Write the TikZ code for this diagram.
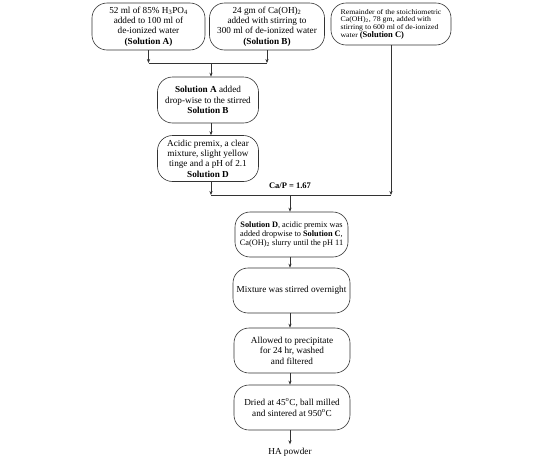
\documentclass[tikz,border=0pt]{standalone}
\usepackage{fontspec}
\setmainfont{Liberation Serif}
\newfontfamily\wideserif[FakeStretch=1.1]{Liberation Serif}
\usetikzlibrary{arrows.meta}
\tikzset{
  box/.style={draw=black!80, line width=0.6pt, rounded corners=15pt, align=center, inner sep=2pt},
  arr/.style={draw=black!80, line width=0.6pt, -{Stealth[length=4pt,width=3.2pt]}},
  ln/.style={draw=black!80, line width=0.6pt},
  nine/.style={font=\fontsize{9.2}{10.4}\selectfont},
  eight/.style={font=\fontsize{8.3}{9.2}\selectfont},
  seven/.style={font=\wideserif\fontsize{7.1}{7.7}\selectfont}
}
\begin{document}
\begin{tikzpicture}[x=1pt,y=-1pt]
\useasboundingbox (0,0) rectangle (542,469);
\node[box,nine,minimum width=113pt,minimum height=47pt] (A) at (148.5,26.5)
  {52 ml of 85\% H\textsubscript{3}PO\textsubscript{4}\\added to 100 ml of\\de-ionized water\\\textbf{(Solution A)}};
\node[box,nine,minimum width=115pt,minimum height=47pt] (B) at (267,26.5)
  {24 gm of Ca(OH)\textsubscript{2}\\added with stirring to\\300 ml of de-ionized water\\\textbf{(Solution B)}};
\node[box,seven,align=left,minimum width=120pt,minimum height=42pt] (C) at (391,24)
  {Remainder of the stoichiometric\\Ca(OH)\textsubscript{2}, 78 gm, added with\\stirring to 600 ml of de-ionized\\water {\rmfamily\fontsize{8.5}{9}\selectfont\textbf{(Solution C)}}};
\coordinate (j1) at (211,63);
\node[box,nine,minimum width=101pt,minimum height=46pt] (s2) at (208,100)
  {\textbf{Solution A} added\\drop-wise to the stirred\\\textbf{Solution B}};
\node[box,nine,minimum width=101pt,minimum height=46pt] (s3) at (208,158.5)
  {Acidic premix, a clear\\mixture, slight yellow\\tinge and a pH of 2.1\\\textbf{Solution D}};
\coordinate (j2) at (290,195);
\node[font=\fontsize{8.5}{10}\selectfont\bfseries] (cap) at (290,186) {Ca/P = 1.67};
\node[box,eight,minimum width=113pt,minimum height=45pt] (s4) at (291.5,234.5)
  {\textbf{Solution D}, acidic premix was\\added dropwise to \textbf{Solution C},\\Ca(OH)\textsubscript{2} slurry until the pH 11};
\node[box,nine,minimum width=117pt,minimum height=45pt] (s5) at (291.5,290.5)
  {Mixture was stirred overnight};
\node[box,nine,minimum width=116pt,minimum height=45pt] (s6) at (292,350.5)
  {Allowed to precipitate\\for 24 hr, washed\\and filtered};
\node[box,nine,minimum width=116pt,minimum height=45pt] (s7) at (292,407.5)
  {Dried at 45\textsuperscript{o}C, ball milled\\and sintered at 950\textsuperscript{o}C};
\node[nine] (ha) at (290,452) {HA powder};
% connectors
\draw[arr] (A.south) -- (A.south |- j1);
\draw[arr] (B.south) -- (B.south |- j1);
\draw[ln] (A.south |- j1) -- (B.south |- j1);
\draw[arr] (j1) -- (s2.north -| j1);
\draw[arr] (s2.south -| j1) -- (s3.north -| j1);
\draw[arr] (s3.south -| j1) -- (j1 |- j2);
\draw[ln] (j1 |- j2) -- (C.south |- j2);
\draw[arr] (C.south) -- (C.south |- j2);
\draw[arr] (j2) -- (s4.north -| j2);
\draw[arr] (s4.south -| j2) -- (s5.north -| j2);
\draw[arr] (s5.south -| j2) -- (s6.north -| j2);
\draw[arr] (s6.south -| j2) -- (s7.north -| j2);
\draw[arr] (s7.south -| j2) -- (ha.north -| j2);
\end{tikzpicture}
\end{document}
